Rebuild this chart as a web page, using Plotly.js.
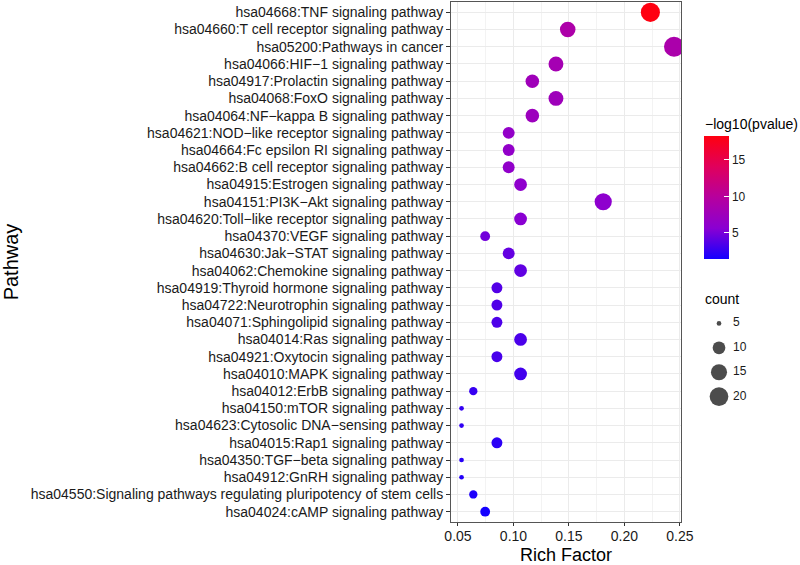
<!DOCTYPE html>
<html>
<head>
<meta charset="utf-8">
<script src="https://cdn.plot.ly/plotly-3.0.1.min.js"></script>
<style>html,body{margin:0;padding:0;background:#fff;}#chart{width:800px;height:565px;}</style>
</head>
<body>
<div id="chart"></div>
<script>
// ---- data (top to bottom as drawn) ----
const pathways = [
  "hsa04668:TNF signaling pathway",
  "hsa04660:T cell receptor signaling pathway",
  "hsa05200:Pathways in cancer",
  "hsa04066:HIF\u22121 signaling pathway",
  "hsa04917:Prolactin signaling pathway",
  "hsa04068:FoxO signaling pathway",
  "hsa04064:NF\u2212kappa B signaling pathway",
  "hsa04621:NOD\u2212like receptor signaling pathway",
  "hsa04664:Fc epsilon RI signaling pathway",
  "hsa04662:B cell receptor signaling pathway",
  "hsa04915:Estrogen signaling pathway",
  "hsa04151:PI3K\u2212Akt signaling pathway",
  "hsa04620:Toll\u2212like receptor signaling pathway",
  "hsa04370:VEGF signaling pathway",
  "hsa04630:Jak\u2212STAT signaling pathway",
  "hsa04062:Chemokine signaling pathway",
  "hsa04919:Thyroid hormone signaling pathway",
  "hsa04722:Neurotrophin signaling pathway",
  "hsa04071:Sphingolipid signaling pathway",
  "hsa04014:Ras signaling pathway",
  "hsa04921:Oxytocin signaling pathway",
  "hsa04010:MAPK signaling pathway",
  "hsa04012:ErbB signaling pathway",
  "hsa04150:mTOR signaling pathway",
  "hsa04623:Cytosolic DNA\u2212sensing pathway",
  "hsa04015:Rap1 signaling pathway",
  "hsa04350:TGF\u2212beta signaling pathway",
  "hsa04912:GnRH signaling pathway",
  "hsa04550:Signaling pathways regulating pluripotency of stem cells",
  "hsa04024:cAMP signaling pathway"
];
const richFactor = [
  0.2234, 0.1489, 0.2447, 0.1383, 0.1170, 0.1383, 0.1170, 0.0957, 0.0957, 0.0957,
  0.1064, 0.1809, 0.1064, 0.0745, 0.0957, 0.1064, 0.0851, 0.0851, 0.0851, 0.1064,
  0.0851, 0.1064, 0.0638, 0.0532, 0.0532, 0.0851, 0.0532, 0.0532, 0.0638, 0.0745
];
const counts = [
  21, 14, 23, 13, 11, 13, 11, 9, 9, 9,
  10, 17, 10, 7, 9, 10, 8, 8, 8, 10,
  8, 10, 6, 5, 5, 8, 5, 5, 6, 7
];
const negLog10P = [
  18.2, 8.9, 8.7, 8.1, 7.6, 7.5, 7.3, 6.4, 6.3, 6.2,
  6.0, 5.9, 5.6, 4.7, 4.2, 4.1, 3.6, 3.5, 3.4, 3.3,
  3.2, 3.0, 2.6, 2.5, 2.4, 2.2, 2.0, 1.9, 1.7, 1.35
];
const xTicks = [0.05, 0.10, 0.15, 0.20, 0.25];
const xTickLabels = ["0.05", "0.10", "0.15", "0.20", "0.25"];
const colorTicks = [5, 10, 15];
const legendCounts = [5, 10, 15, 20];
const legendLabels = ["5", "10", "15", "20"];

// ---- styling helpers ----
const cMin = Math.min(...counts), cMax = Math.max(...counts);
function sizeOf(c) { return 4.7 + 15.3 * Math.sqrt(Math.max(0, (c - cMin)) / (cMax - cMin)); }
const colorscale = [
  [0, '#1400FF'], [0.25, '#8A00D2'], [0.5, '#B6009E'], [0.75, '#E0005C'], [1, '#FF0010']
];
const FONT = 'Liberation Sans, Arial, sans-serif';
const W = 800, H = 565, ML = 451, MR = 5, MT = 2, MB = 43;
const plotW = W - ML - MR, plotH = H - MT - MB;
const px2x = p => (p - ML) / plotW;
const px2y = p => 1 - (p - MT) / plotH;

const main = {
  type: 'scatter', mode: 'markers',
  x: richFactor, y: pathways,
  xaxis: 'x', yaxis: 'y',
  showlegend: false, hoverinfo: 'x+y',
  marker: {
    size: counts.map(sizeOf),
    color: negLog10P,
    colorscale: colorscale,
    line: {width: 0},
    opacity: 1,
    colorbar: {
      xref: 'paper', x: px2x(704), xanchor: 'left', xpad: 0,
      yref: 'paper', y: px2y(198), yanchor: 'middle', ypad: 0,
      lenmode: 'pixels', len: 123, thickness: 25,
      outlinewidth: 0,
      tickvals: colorTicks, ticks: 'inside', ticklen: 5, tickwidth: 1, tickcolor: '#ffffff',
      tickfont: {family: FONT, size: 12, color: '#1a1a1a'},
      title: {text: ''}
    }
  }
};

const legMarkers = {
  type: 'scatter', mode: 'markers',
  x: legendCounts.map(() => 19), y: legendLabels,
  xaxis: 'x2', yaxis: 'y2', showlegend: false, hoverinfo: 'skip',
  marker: {size: legendCounts.map(sizeOf), color: '#000000', line: {width: 0}}
};
const legText = {
  type: 'scatter', mode: 'text',
  x: legendCounts.map(() => 33), y: legendLabels, text: legendLabels,
  textposition: 'middle right',
  textfont: {family: FONT, size: 12, color: '#1a1a1a'},
  xaxis: 'x2', yaxis: 'y2', showlegend: false, hoverinfo: 'skip'
};

const layout = {
  width: W, height: H,
  margin: {l: ML, r: MR, t: MT, b: MB},
  paper_bgcolor: '#ffffff', plot_bgcolor: '#ffffff',
  font: {family: FONT, color: '#1a1a1a'},
  xaxis: {
    domain: [0, 230 / plotW],
    range: [0.0437, 0.2510],
    tickvals: xTicks, ticktext: xTickLabels,
    tickfont: {size: 14, color: '#1a1a1a'},
    ticks: 'outside', ticklen: 3, tickwidth: 1, tickcolor: '#333333',
    ticklabelstandoff: -2,
    showgrid: true, gridcolor: '#EBEBEB', gridwidth: 1,
    minor: {tickvals: [0.075, 0.125, 0.175, 0.225], showgrid: true, gridcolor: '#F3F3F3', gridwidth: 1},
    showline: true, mirror: true, linecolor: '#555555', linewidth: 1,
    zeroline: false,
    title: {text: 'Rich Factor', font: {size: 18, color: '#000000'}, standoff: 12}
  },
  yaxis: {
    type: 'category', categoryarray: pathways,
    range: [pathways.length - 0.4, -0.6],
    tickfont: {size: 14, color: '#1a1a1a'},
    ticks: 'outside', ticklen: 4, tickwidth: 1, tickcolor: '#333333',
    showgrid: true, gridcolor: '#EBEBEB', gridwidth: 1,
    showline: true, mirror: true, linecolor: '#555555', linewidth: 1,
    zeroline: false,
    title: {text: 'Pathway', font: {size: 20, color: '#000000'}, standoff: 10}
  },
  xaxis2: {domain: [px2x(700), px2x(770)], range: [0, 70], visible: false, anchor: 'y2', fixedrange: true},
  yaxis2: {domain: [px2y(410), px2y(310)], type: 'category', categoryarray: legendLabels,
           range: [3.55, -0.55], visible: false, anchor: 'x2', fixedrange: true},
  annotations: [
    {xref: 'paper', yref: 'paper', x: px2x(703), y: px2y(124), xanchor: 'left', yanchor: 'middle',
     text: '\u2212log10(pvalue)', showarrow: false, font: {size: 14, color: '#000000'}},
    {xref: 'paper', yref: 'paper', x: px2x(703), y: px2y(299), xanchor: 'left', yanchor: 'middle',
     text: 'count', showarrow: false, font: {size: 14, color: '#000000'}}
  ]
};

Plotly.newPlot('chart', [main, legMarkers, legText], layout, {staticPlot: true, displayModeBar: false});
</script>
</body>
</html>
